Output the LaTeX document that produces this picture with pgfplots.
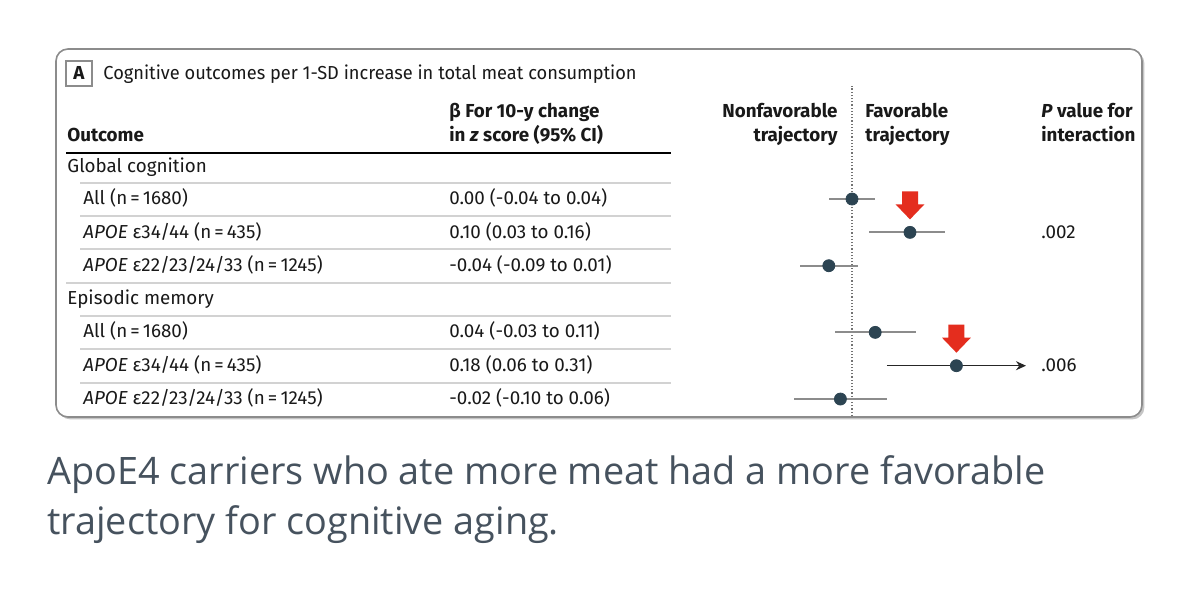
\documentclass[border=0pt]{standalone}
\usepackage{fontspec}
\setmainfont{Fira Sans}
\newfontfamily\capfont{Open Sans}
\usepackage{pgfplots}
\pgfplotsset{compat=1.18}
\usepackage{pgfplotstable}
\usetikzlibrary{arrows.meta,shadows}

\definecolor{dotcol}{RGB}{44,68,82}
\definecolor{cicol}{RGB}{140,140,140}
\definecolor{rulecol}{RGB}{210,210,210}
\definecolor{arrowred}{RGB}{228,45,30}
\definecolor{capcol}{RGB}{70,82,94}
\definecolor{txt}{RGB}{25,25,25}

% row: 7 = first row (Global cognition, All), 1 = last row
\pgfplotstableread{
row beta lo hi
7 0.00 -0.04 0.04
6 0.10 0.03 0.16
5 -0.04 -0.09 0.01
3 0.04 -0.03 0.11
2 0.18 0.06 0.31
1 -0.02 -0.10 0.06
}\forest

% red marker arrow above a point
\newcommand{\redarrow}[2]{%
  \fill[arrowred] ([shift={(-4pt,20.5pt)}]axis cs:#1,#2) -- ([shift={(4pt,20.5pt)}]axis cs:#1,#2)
    -- ([shift={(4pt,14pt)}]axis cs:#1,#2) -- ([shift={(7.2pt,14pt)}]axis cs:#1,#2)
    -- ([shift={(0pt,6.5pt)}]axis cs:#1,#2) -- ([shift={(-7.2pt,14pt)}]axis cs:#1,#2)
    -- ([shift={(-4pt,14pt)}]axis cs:#1,#2) -- cycle;}

\begin{document}
\begin{tikzpicture}
% page in px units (1px = 0.5pt), y downwards
\begin{scope}[x=0.5pt,y=-0.5pt]
  \useasboundingbox (0,0) rectangle (1200,593);
  \fill[white] (0,0) rectangle (1200,593);
  \draw[draw=black!45, line width=0.8pt, fill=white, rounded corners=6pt,
        drop shadow={shadow xshift=1.2pt, shadow yshift=-1.2pt, opacity=0.45}]
        (56,49) rectangle (1142,417);
\end{scope}

\begin{axis}[
  at={(368pt,-207.85pt)}, anchor=south west,
  scale only axis, width=145pt, height=116.67pt,
  xmin=-0.2, xmax=0.3, ymin=0.5, ymax=7.5,
  hide axis, clip=false]
  % line of no effect
  \addplot[densely dotted, black!55, line width=0.6pt, forget plot]
    coordinates {(0,0.49) (0,10.4)};
  % confidence intervals
  \addplot[only marks, mark=none, forget plot, skip coords between index={4}{5},
    error bars/.cd, x dir=both, x explicit, error mark=none,
    error bar style={draw=cicol, line width=0.9pt, solid}]
    table[x=beta, y=row,
      x error plus expr=\thisrow{hi}-\thisrow{beta},
      x error minus expr=\thisrow{beta}-\thisrow{lo}] {\forest};
  % CI running past the axis end (0.06 to 0.31)
  \addplot[black!85, line width=0.6pt, -{Stealth[length=5pt,width=4.5pt]}, forget plot]
    coordinates {(0.06,2) (0.30,2)};
  % point estimates
  \addplot[only marks, mark=*, mark size=3pt, dotcol,
    mark options={fill=dotcol, draw=dotcol}]
    table[x=beta, y=row] {\forest};
  \redarrow{0.10}{6}
  \redarrow{0.18}{2}
\end{axis}

\begin{scope}[x=0.5pt,y=-0.5pt, text=txt, font=\fontsize{9.4pt}{11pt}\selectfont,
  every node/.style={inner sep=0pt}]
  % panel label and title
  \draw[black!45, line width=0.7pt] (66,61) rectangle (92,86);
  \node[anchor=base] at (79,79.5) {\bfseries A};
  \node[anchor=base west] at (103,79.5) {\addfontfeatures{FakeStretch=0.97}Cognitive outcomes per 1-SD increase in total meat consumption};
  % column headers
  \node[anchor=base west] at (67,142) {\bfseries Outcome};
  \node[anchor=base west] at (449,118) {\bfseries β For 10-y change};
  \node[anchor=base west] at (449,142) {\bfseries in \textit{z} score (95\% CI)};
  \node[anchor=base east] at (838,118) {\bfseries Nonfavorable};
  \node[anchor=base east] at (838,142) {\bfseries trajectory};
  \node[anchor=base west] at (865,118) {\bfseries Favorable};
  \node[anchor=base west] at (865,142) {\bfseries trajectory};
  \node[anchor=base west] at (1041,118) {\bfseries\textit{P} value for};
  \node[anchor=base west] at (1041,142) {\bfseries interaction};
  % rules
  \draw[black, line width=1pt] (66,153) -- (671,153);
  \foreach \yy/\xs in {183/80,216/80,249/80,283/66,316/80,349/80,383/80}
    \draw[rulecol, line width=0.8pt] (\xs,\yy) -- (671,\yy);
  % rows
  \node[anchor=base west] at (67,173) {Global cognition};
  \node[anchor=base west] at (83,205) {All (n\,=\,1680)};
  \node[anchor=base west] at (83,238.5) {\textit{APOE} ε34/44 (n\,=\,435)};
  \node[anchor=base west] at (83,272) {\textit{APOE} ε22/23/24/33 (n\,=\,1245)};
  \node[anchor=base west] at (67,305) {Episodic memory};
  \node[anchor=base west] at (83,338) {All (n\,=\,1680)};
  \node[anchor=base west] at (83,371.5) {\textit{APOE} ε34/44 (n\,=\,435)};
  \node[anchor=base west] at (83,405) {\textit{APOE} ε22/23/24/33 (n\,=\,1245)};
  \node[anchor=base west] at (449,205) {0.00 (-0.04 to 0.04)};
  \node[anchor=base west] at (449,238.5) {0.10 (0.03 to 0.16)};
  \node[anchor=base west] at (449,272) {-0.04 (-0.09 to 0.01)};
  \node[anchor=base west] at (449,338) {0.04 (-0.03 to 0.11)};
  \node[anchor=base west] at (449,371.5) {0.18 (0.06 to 0.31)};
  \node[anchor=base west] at (449,405) {-0.02 (-0.10 to 0.06)};
  \node[anchor=base west] at (1041,238.5) {.002};
  \node[anchor=base west] at (1041,371.5) {.006};
  % caption
  \node[anchor=base west, text=capcol, font=\capfont\fontsize{18.9pt}{25pt}\selectfont] at (47,484)
    {ApoE4 carriers who ate more meat had a more favorable};
  \node[anchor=base west, text=capcol, font=\capfont\fontsize{18.9pt}{25pt}\selectfont] at (47,534)
    {trajectory for cognitive aging.};
\end{scope}
\end{tikzpicture}
\end{document}
